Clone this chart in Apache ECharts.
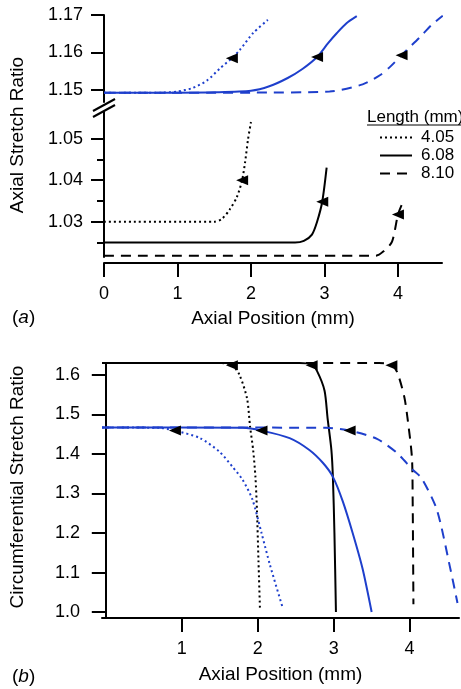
<!DOCTYPE html>
<html><head><meta charset="utf-8">
<script src="https://cdn.jsdelivr.net/npm/echarts@6/dist/echarts.min.js"></script>
<style>html,body{margin:0;padding:0;background:#fff}#c{width:461px;height:689px}</style>
</head><body><div id="c"></div>
<script>
// ---------- Panel (a): axial stretch ratio ----------
// upper segment (blue curves)
const aDottedBlue = [[0,1.1493],[0.8,1.1493],[1.0,1.1496],[1.2,1.1505],[1.4,1.1525],[1.58,1.1558],[1.74,1.1585],[1.85,1.1607],[2.03,1.1652],[2.23,1.1687]];
const aSolidBlue  = [[0,1.1493],[1.0,1.1493],[1.5,1.1494],[2.0,1.1498],[2.25,1.151],[2.5,1.1532],[2.7,1.1556],[2.9,1.1588],[3.05,1.1625],[3.17,1.1652],[3.3,1.1678],[3.44,1.1697]];
const aDashedBlue = [[0,1.1493],[2.0,1.1493],[3.07,1.1496],[3.52,1.1515],[3.76,1.154],[3.9,1.1563],[4.05,1.1593],[4.3,1.1641],[4.45,1.1672],[4.61,1.1698]];
// lower segment (black curves)
const aDottedBlack = [[0,1.030],[1.5,1.030],[1.6,1.0306],[1.71,1.0329],[1.81,1.036],[1.88,1.040],[1.92,1.0443],[1.96,1.0498],[2.0,1.054]];
const aSolidBlack  = [[0,1.025],[2.6,1.025],[2.72,1.0254],[2.83,1.0269],[2.9,1.030],[2.97,1.0348],[3.03,1.043]];
const aDashedBlack = [[0,1.0218],[3.7,1.0218],[3.8,1.0228],[3.92,1.0252],[4.0,1.0317],[4.05,1.034]];
const aArrowsUpper = [[1.74,1.1585],[2.9,1.1588],[4.05,1.1593]];
const aArrowsLower = [[1.88,1.040],[2.97,1.0348],[4.0,1.0317]];
const aXTicks = [0,1,2,3,4];
const aYTicksUpper = [1.15,1.16,1.17];
const aYTicksLower = [1.03,1.04,1.05];
const aYMinorLower = [1.025,1.035,1.045];

// ---------- Panel (b): circumferential stretch ratio ----------
const bDottedBlack = [[-0.05,1.63],[1.5,1.63],[1.66,1.625],[1.76,1.6],[1.86,1.54],[1.9,1.468],[1.94,1.41],[1.97,1.342],[1.99,1.258],[2.01,1.13],[2.03,1.005]];
const bSolidBlack  = [[-0.05,1.63],[2.55,1.63],[2.71,1.626],[2.78,1.61],[2.88,1.56],[2.92,1.49],[2.97,1.41],[2.99,1.34],[3.01,1.2],[3.03,1.0]];
const bDashedBlack = [[-0.05,1.63],[3.6,1.63],[3.76,1.626],[3.84,1.605],[3.93,1.544],[3.97,1.494],[4.03,1.392],[4.04,1.285],[4.05,1.02]];
const bDottedBlue  = [[-0.05,1.467],[0.7,1.466],[0.91,1.459],[1.24,1.44],[1.5,1.405],[1.67,1.367],[1.8,1.335],[1.93,1.285],[2.05,1.2],[2.16,1.12],[2.33,1.01]];
const bSolidBlue   = [[-0.05,1.467],[1.8,1.466],[2.05,1.459],[2.42,1.44],[2.68,1.41],[2.86,1.377],[2.99,1.342],[3.12,1.28],[3.25,1.2],[3.38,1.11],[3.5,1.0]];
const bDashedBlue  = [[-0.05,1.467],[2.9,1.466],[3.21,1.459],[3.57,1.438],[3.83,1.403],[4.04,1.36],[4.16,1.338],[4.36,1.258],[4.53,1.115],[4.63,1.023]];
const bArrows = [[1.66,1.624],[2.71,1.624],[3.76,1.624],[0.91,1.459],[2.05,1.459],[3.21,1.459]];
const bXTicks = [1,2,3,4];
const bYTicks = [1.0,1.1,1.2,1.3,1.4,1.5,1.6];

const legendNames = ['4.05','6.08','8.10'];

const FONT = "'Liberation Sans', Arial, Helvetica, sans-serif";
const BLUE = '#1e3fcc';
const BLACK = '#000';
const DOT = [2,3];
const DASH = [10,7];

function line(name, data, color, dash, xi, yi) {
  return {type:'line', name:name, data:data, xAxisIndex:xi, yAxisIndex:yi,
    showSymbol:false, symbol:'none', smooth:0.25, clip:false, silent:true, z:3,
    lineStyle:{color:color, width:2, type:dash}, itemStyle:{color:color}};
}
function arrows(name, data, xi, yi) {
  return {type:'scatter', name:name, data:data, xAxisIndex:xi, yAxisIndex:yi,
    symbol:'triangle', symbolRotate:90, symbolSize:[10,12], clip:false, silent:true, z:5,
    itemStyle:{color:BLACK, opacity:1}};
}
const axLine = {show:true, lineStyle:{color:BLACK, width:2}};
const lbl = {color:BLACK, fontFamily:FONT, fontSize:18};

function yAx(grid, min, max, ticks, dec, len, margin) {
  return {type:'value', gridIndex:grid, min:min, max:max, position:'left',
    axisLine:axLine, splitLine:{show:false},
    axisTick:{show:true, inside:false, length:len, lineStyle:{color:BLACK,width:2}, customValues:ticks},
    axisLabel:Object.assign({margin:margin, customValues:ticks, formatter:v=>v.toFixed(dec)}, lbl)};
}

const chart = echarts.init(document.getElementById('c'), null, {renderer:'canvas'});
chart.setOption({
  animation:false,
  backgroundColor:'#fff',
  grid:[
    {left:104, top:15, width:338, height:87},
    {left:104, top:112, width:338, height:145},
    {left:102, top:363, width:357, height:255}
  ],
  xAxis:[
    {type:'value', gridIndex:0, min:0, max:4.6, show:false},
    {type:'value', gridIndex:1, min:0, max:4.6, offset:6, axisLine:axLine, splitLine:{show:false},
      axisTick:{show:true, length:14, lineStyle:{color:BLACK,width:2}, customValues:aXTicks},
      axisLabel:Object.assign({margin:22, customValues:aXTicks}, lbl),
      name:'Axial Position (mm)', nameLocation:'middle', nameGap:46,
      nameTextStyle:{color:BLACK, fontFamily:FONT, fontSize:19}},
    {type:'value', gridIndex:2, min:-0.05, max:4.65, axisLine:axLine, splitLine:{show:false},
      axisTick:{show:true, length:14, lineStyle:{color:BLACK,width:2}, customValues:bXTicks},
      axisLabel:Object.assign({margin:22, customValues:bXTicks}, lbl),
      name:'Axial Position (mm)', nameLocation:'middle', nameGap:47,
      nameTextStyle:{color:BLACK, fontFamily:FONT, fontSize:19}}
  ],
  yAxis:[
    yAx(0, 1.1468, 1.17, aYTicksUpper, 2, 13, 21),
    yAx(1, 1.0215, 1.0564, aYTicksLower, 2, 13, 21),
    {type:'value', gridIndex:1, min:1.0215, max:1.0564, position:'left',
      axisLine:{show:false}, splitLine:{show:false}, axisLabel:{show:false},
      axisTick:{show:true, length:7, lineStyle:{color:BLACK,width:2}, customValues:aYMinorLower}},
    yAx(2, 0.985, 1.63, bYTicks, 1, 14, 22)
  ],
  legend:{
    data:legendNames, orient:'vertical', left:374, top:124,
    itemWidth:32, itemHeight:12, itemGap:1, selectedMode:false,
    itemStyle:{opacity:0, color:'transparent', borderWidth:0},
    textStyle:{color:BLACK, fontFamily:FONT, fontSize:17, padding:[0,0,0,4]}
  },
  series:[
    line('upper 4.05', aDottedBlue, BLUE, DOT, 0, 0),
    line('upper 6.08', aSolidBlue, BLUE, 'solid', 0, 0),
    line('upper 8.10', aDashedBlue, BLUE, DASH, 0, 0),
    line('4.05', aDottedBlack, BLACK, DOT, 1, 1),
    line('6.08', aSolidBlack, BLACK, 'solid', 1, 1),
    line('8.10', aDashedBlack, BLACK, DASH, 1, 1),
    arrows('arrows a upper', aArrowsUpper, 0, 0),
    arrows('arrows a lower', aArrowsLower, 1, 1),
    line('b black 4.05', bDottedBlack, BLACK, DOT, 2, 3),
    line('b black 6.08', bSolidBlack, BLACK, 'solid', 2, 3),
    line('b black 8.10', bDashedBlack, BLACK, DASH, 2, 3),
    line('b blue 4.05', bDottedBlue, BLUE, DOT, 2, 3),
    line('b blue 6.08', bSolidBlue, BLUE, 'solid', 2, 3),
    line('b blue 8.10', bDashedBlue, BLUE, DASH, 2, 3),
    arrows('arrows b', bArrows, 2, 3)
  ],
  graphic:[
    {type:'line', shape:{x1:93, y1:111, x2:115, y2:99}, style:{stroke:BLACK, lineWidth:2}},
    {type:'line', shape:{x1:93, y1:117, x2:115, y2:105}, style:{stroke:BLACK, lineWidth:2}},
    {type:'text', x:18, y:135, rotation:Math.PI/2,
      style:{text:'Axial Stretch Ratio', fontSize:19, fontFamily:FONT, fill:BLACK, align:'center', verticalAlign:'middle'}},
    {type:'text', x:18, y:487, rotation:Math.PI/2,
      style:{text:'Circumferential Stretch Ratio', fontSize:19, fontFamily:FONT, fill:BLACK, align:'center', verticalAlign:'middle'}},
    {type:'text', x:367, y:117,
      style:{text:'Length (mm)', fontSize:17, fontFamily:FONT, fill:BLACK, align:'left', verticalAlign:'middle'}},
    {type:'line', shape:{x1:367, y1:125, x2:461, y2:125}, style:{stroke:BLACK, lineWidth:1}},
    {type:'text', x:12, y:318,
      style:{text:'{n|(}{i|a}{n|)}', verticalAlign:'middle', align:'left',
        rich:{n:{fontSize:19, fontFamily:FONT, fill:BLACK}, i:{fontSize:19, fontFamily:FONT, fontStyle:'italic', fill:BLACK}}}},
    {type:'text', x:12, y:677,
      style:{text:'{n|(}{i|b}{n|)}', verticalAlign:'middle', align:'left',
        rich:{n:{fontSize:19, fontFamily:FONT, fill:BLACK}, i:{fontSize:19, fontFamily:FONT, fontStyle:'italic', fill:BLACK}}}}
  ]
});
</script></body></html>
